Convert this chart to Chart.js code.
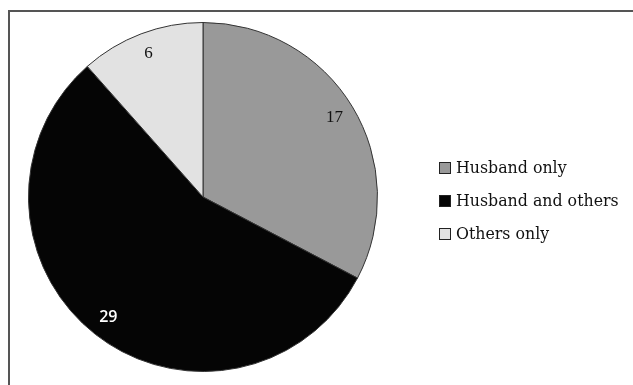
<!DOCTYPE html>
<html>
<head>
<meta charset="utf-8">
<script src="https://cdn.jsdelivr.net/npm/chart.js@4"></script>
<style>
  html, body { margin: 0; padding: 0; background: #fff; overflow: hidden; }
  #wrap { position: relative; width: 633px; height: 385px; }
  #frame {
    position: absolute; left: 8px; top: 10px; width: 700px; height: 500px;
    border: 2px solid #555; box-sizing: border-box;
  }
  #chart { position: absolute; left: 0; top: 0; }
  #legend {
    position: absolute; left: 439px; top: 151px;
    font-family: 'DejaVu Serif', 'Liberation Serif', serif; font-size: 15.8px; color: #111;
  }
  .item { display: flex; align-items: center; height: 33px; }
  .box { width: 10px; height: 10px; border: 1px solid #222; margin-right: 5px; }
</style>
</head>
<body>
<div id="wrap">
  <div id="frame"></div>
  <canvas id="chart" width="633" height="385"></canvas>
  <div id="legend"></div>
</div>
<script>
// chart data
const categories = ['Husband only', 'Husband and others', 'Others only'];
const counts = [17, 29, 6];
const sliceColors = ['#999999', '#050505', '#e2e2e2'];
const labelColors = ['#111', '#fff', '#111'];

// value labels drawn at the middle of each slice
const sliceLabels = {
  id: 'sliceLabels',
  afterDatasetsDraw(chart) {
    const ctx = chart.ctx;
    const arcs = chart.getDatasetMeta(0).data;
    ctx.save();
    ctx.textAlign = 'center';
    ctx.textBaseline = 'middle';
    arcs.forEach((arc, i) => {
      const p = arc.getProps(['x', 'y', 'startAngle', 'endAngle', 'outerRadius'], true);
      const mid = (p.startAngle + p.endAngle) / 2;
      const r = p.outerRadius * 0.88;
      ctx.fillStyle = labelColors[i];
      ctx.font = i === 1 ? '600 16px "Open Sans", sans-serif' : '17px "Liberation Serif", serif';
      ctx.fillText(String(counts[i]), p.x + Math.cos(mid) * r, p.y + Math.sin(mid) * r);
    });
    ctx.restore();
  }
};

new Chart(document.getElementById('chart'), {
  type: 'pie',
  data: {
    labels: categories,
    datasets: [{
      data: counts,
      backgroundColor: sliceColors,
      borderColor: '#333',
      borderWidth: 1
    }]
  },
  options: {
    responsive: false,
    animation: false,
    layout: { padding: { top: 22, bottom: 13, left: 28, right: 255 } },
    plugins: {
      legend: { display: false },
      tooltip: { enabled: false }
    }
  },
  plugins: [sliceLabels]
});

// legend on the right
const legend = document.getElementById('legend');
categories.forEach((name, i) => {
  const row = document.createElement('div');
  row.className = 'item';
  const box = document.createElement('span');
  box.className = 'box';
  box.style.background = sliceColors[i];
  row.appendChild(box);
  row.appendChild(document.createTextNode(name));
  legend.appendChild(row);
});
</script>
</body>
</html>
